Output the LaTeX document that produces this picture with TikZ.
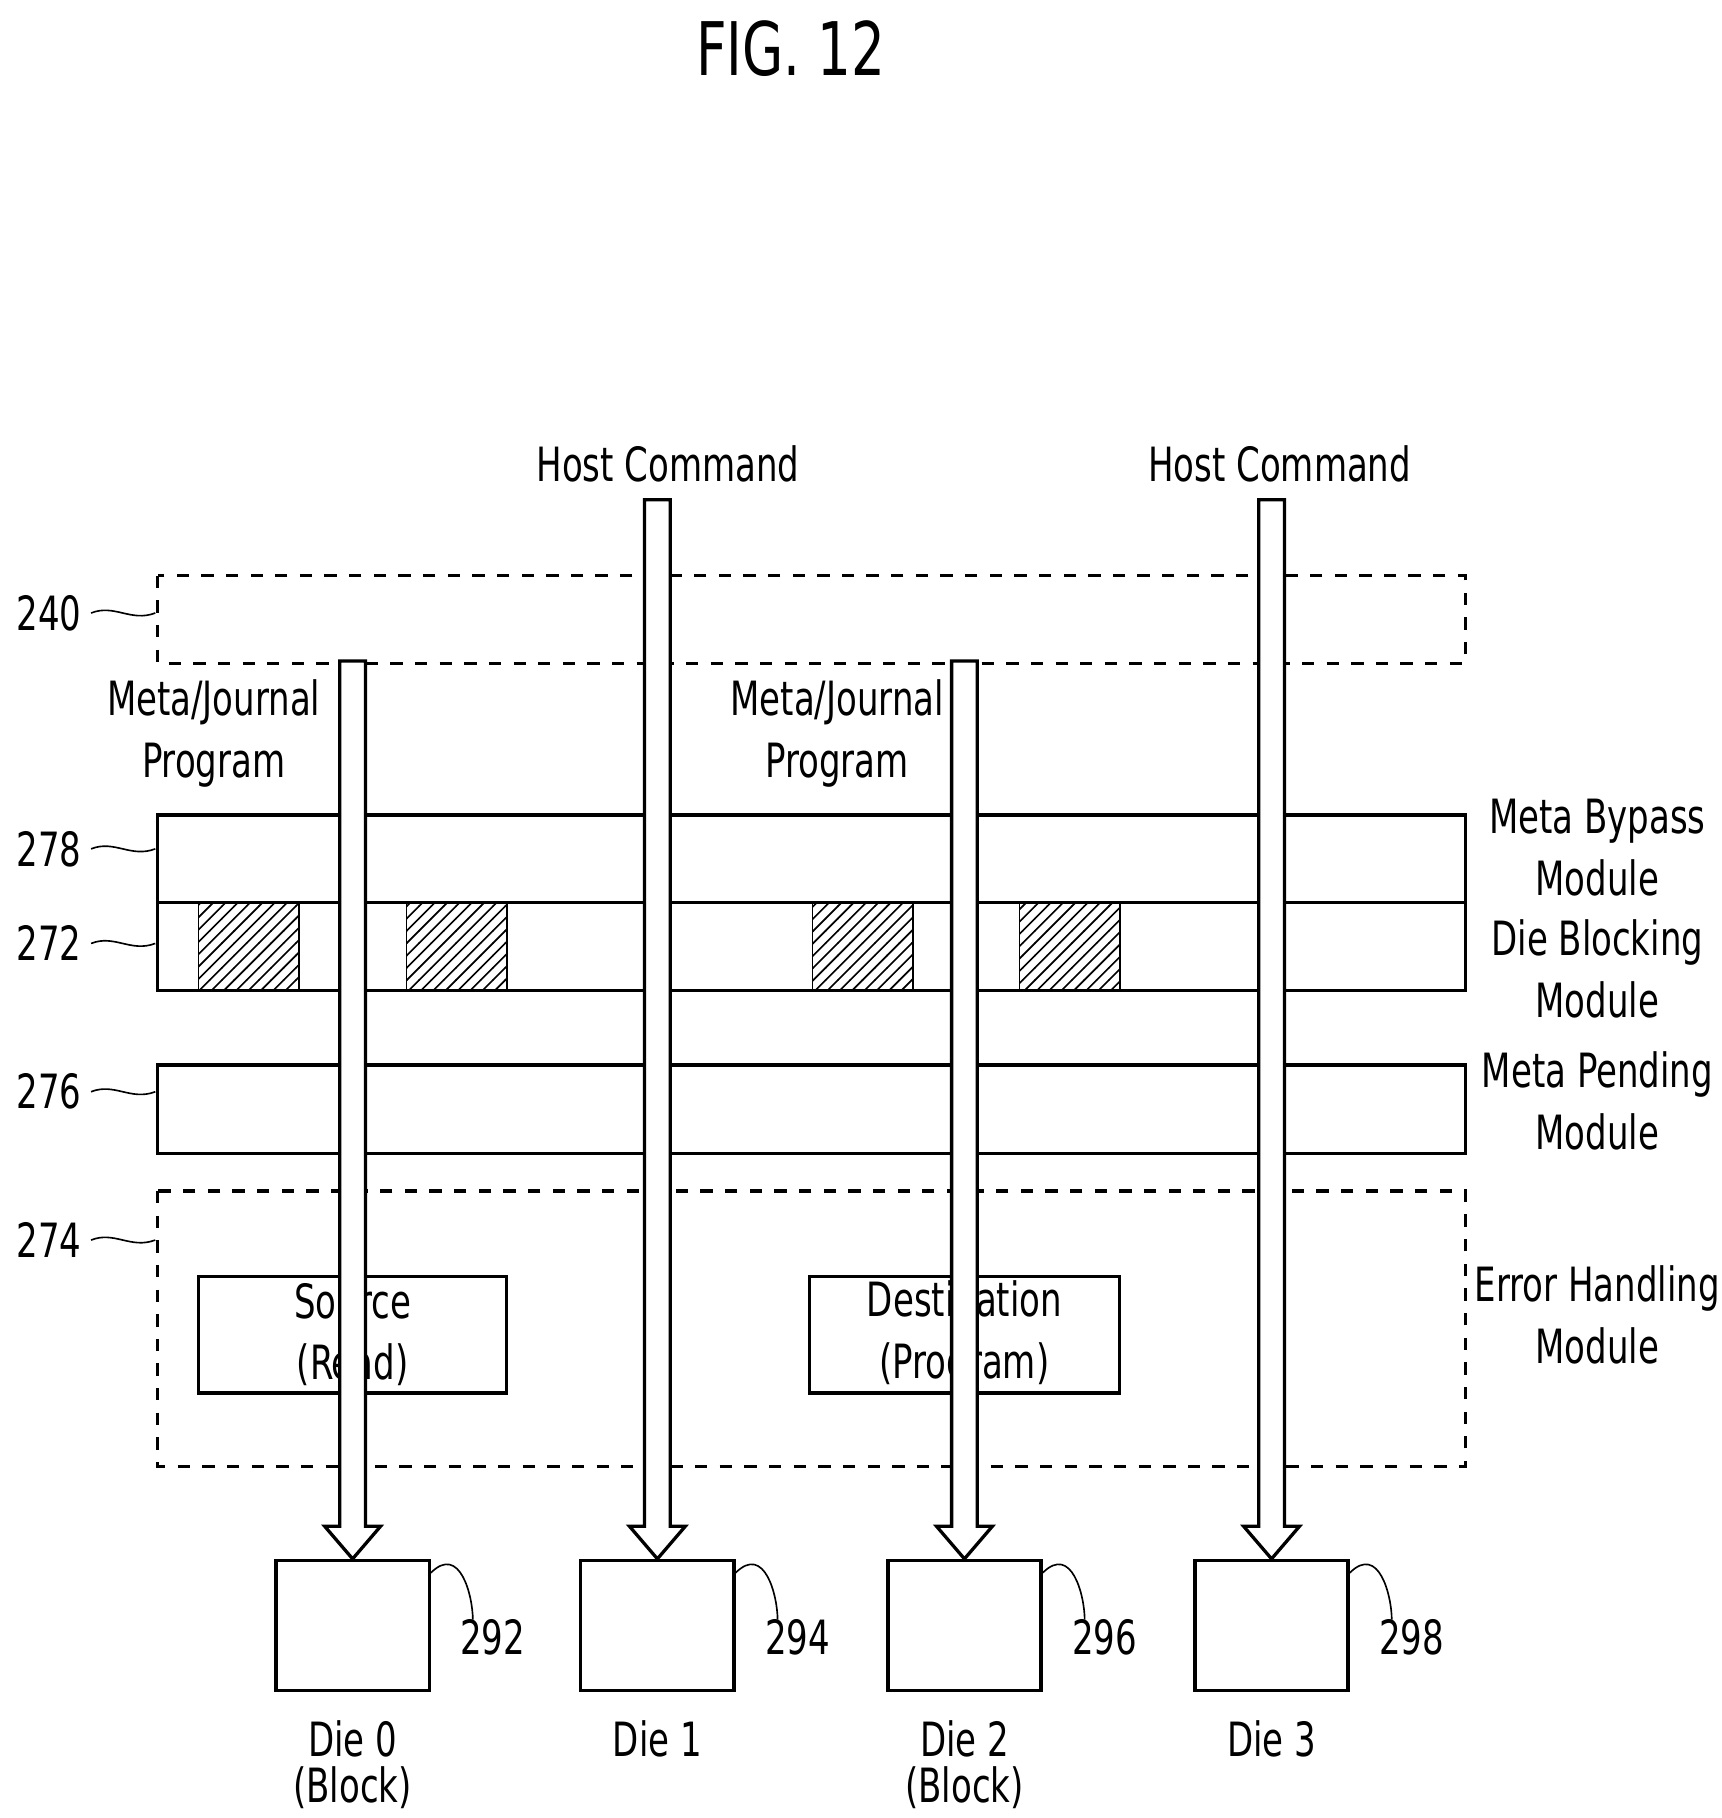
\documentclass[tikz,border=0pt]{standalone}
\usepackage{fontspec}
\setmainfont{DejaVu Sans Condensed}[FakeStretch=0.8]
\usetikzlibrary{positioning, patterns, calc}
\tikzset{
  lbl/.style={font=\fontsize{11.5}{15}\selectfont, align=center, inner sep=1pt},
  modbox/.style={draw=black, thick},
  dashbox/.style={draw=black, dashed, thick},
  block/.style={draw=black, thick, fill=white, minimum width=1.31cm, minimum height=1.11cm, inner sep=0pt},
  hatch/.style={draw=black, pattern=north east lines},
  bigarrow/.style={draw=black, thick, fill=white},
  leader/.style={thin}
}
\begin{document}
\begin{tikzpicture}[x=0.01cm, y=-0.01cm]
  \useasboundingbox (0,0) rectangle (1474,1557);
  \node (fig) at (677,42) {\fontsize{18}{20}\selectfont FIG. 12};

  % module boxes
  \draw[dashbox] (135,493) rectangle (1255,568);
  \draw[modbox] (135,698) rectangle (1255,773);
  \draw[modbox] (135,773) rectangle (1255,848);
  \foreach \x in {170,348,696,873}
    \draw[hatch] (\x,773) rectangle ++(86,75);
  \draw[modbox] (135,912) rectangle (1255,988);
  \draw[dashbox] (135,1020) rectangle (1255,1256);
  \node (src) [draw, thick, minimum width=2.64cm, minimum height=1cm, lbl] at (302,1143) {Source\\(Read)};
  \node (dst) [draw, thick, minimum width=2.65cm, minimum height=1cm, lbl] at (826,1143) {Destination\\(Program)};

  % reference numerals
  \foreach \n/\y in {240/525, 278/727, 272/808, 276/935, 274/1062} {
    \node[lbl] at (42,\y) {\n};
    \draw[leader] (78,\y) .. controls (98,\y-8) and (112,\y+8) .. (133,\y);
  }

  % module names
  \node[lbl] (mb) at (1368,726) {Meta Bypass\\Module};
  \node[lbl] (db) at (1368,830) {Die Blocking\\Module};
  \node[lbl] (mp) at (1368,943) {Meta Pending\\Module};
  \node[lbl] (eh) at (1368,1126) {Error Handling\\Module};
  \node[lbl] (mj1) at (183,628) {Meta/Journal\\Program};
  \node[lbl] (mj2) at (717,628) {Meta/Journal\\Program};
  \node[lbl] (hc1) at (572,397) {Host Command};
  \node[lbl] (hc2) at (1096,397) {Host Command};

  % dies
  \foreach \i/\x/\num in {0/302/292, 1/563/294, 2/826/296, 3/1089/298} {
    \node (die\i) [block] at (\x,1392) {};
    \draw[leader] (die\i.north east) ++(0,12) .. controls ++(25,-25) and ++(0,-20) .. ++(36,40);
    \node[lbl, right=6pt of die\i.east, yshift=-0.1cm] {\num};
    \node[lbl, below=0.2cm of die\i] (dl\i) {Die \i};
  }
  \node[lbl, below=0pt of dl0] {(Block)};
  \node[lbl, below=0pt of dl2] {(Block)};

  % hollow arrows
  \foreach \i/\top in {0/568, 1/430, 2/568, 3/430} {
    \draw[bigarrow] ($(die\i.north)+(-11,0)$) ++(0,-28) coordinate (p)
      (p) -- ++(0,-1337+28+\top) -- ++(22,0) -- ++(0,1337-28-\top)
      -- ++(13,0) -- ($(die\i.north)$) -- ($(die\i.north)+(-24,-28)$) -- cycle;
  }
\end{tikzpicture}
\end{document}
